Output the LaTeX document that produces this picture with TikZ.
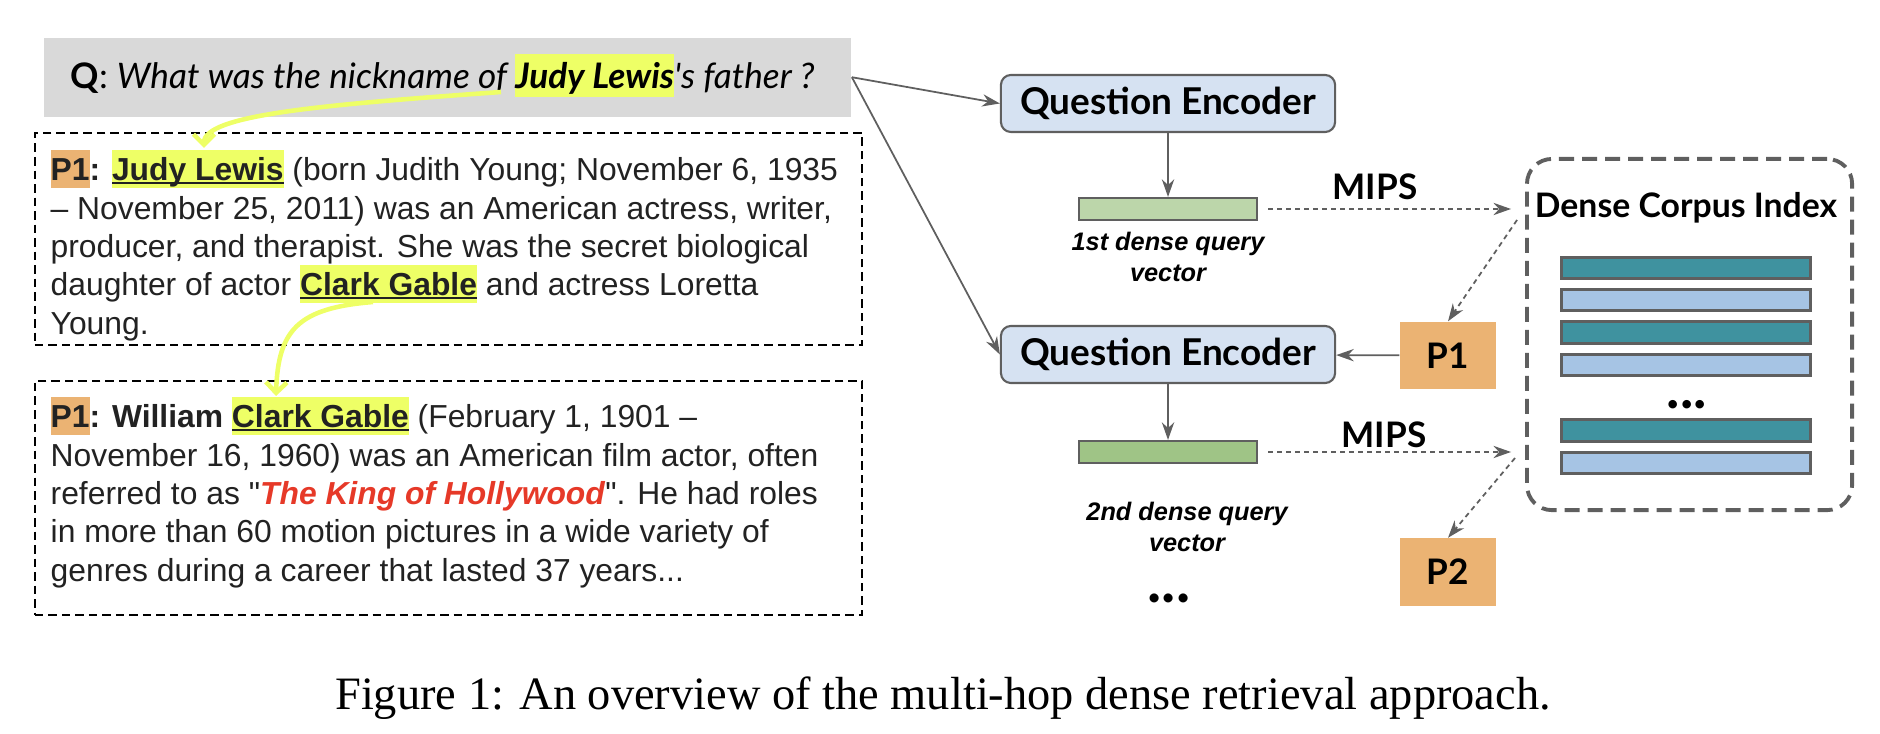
\documentclass[tikz,border=0pt]{standalone}
\usepackage{fontspec}
\setmainfont{Liberation Sans}
\newfontfamily\latofont{Lato}
\newfontfamily\timesfont{Liberation Serif}
\usepackage{xcolor}
\usetikzlibrary{positioning,arrows.meta,shapes.geometric}

\definecolor{qgray}{RGB}{217,217,217}
\definecolor{hlyellow}{RGB}{238,255,102}
\definecolor{porange}{RGB}{235,179,115}
\definecolor{encblue}{RGB}{214,226,242}
\definecolor{vecgreen}{RGB}{188,214,170}
\definecolor{vecgreendark}{RGB}{159,196,134}
\definecolor{barteal}{RGB}{63,146,159}
\definecolor{barblue}{RGB}{166,196,228}
\definecolor{linegray}{RGB}{95,95,95}
\definecolor{kingred}{RGB}{230,57,40}
\definecolor{textgray}{RGB}{34,34,34}

\setlength{\fboxsep}{0pt}
\newsavebox{\ulbox}
\newcommand{\hlq}[1]{\colorbox{hlyellow}{\rule[-0.08cm]{0pt}{0.43cm}#1}}
\newcommand{\hlpid}[1]{\colorbox{porange}{\rule[-0.07cm]{0pt}{0.38cm}#1}}
\newcommand{\hlunder}[1]{\colorbox{hlyellow}{\rule[-0.07cm]{0pt}{0.38cm}\sbox{\ulbox}{#1}\rlap{\rule[-0.035cm]{\wd\ulbox}{0.02cm}}\usebox{\ulbox}}}

\tikzset{
  qbox/.style={rectangle, fill=qgray, minimum width=8.07cm, minimum height=0.79cm, inner sep=0pt},
  passage/.style={rectangle, draw=black, line width=0.5pt, dash pattern=on 0.085cm off 0.05cm, minimum width=8.27cm, inner sep=0pt},
  passtext/.style={anchor=north west, inner sep=0pt, align=left, text=textgray, font=\fontsize{9.05}{10.9}\selectfont},
  encoder/.style={rectangle, rounded corners=0.1cm, draw=linegray, line width=0.6pt, fill=encblue, minimum width=3.34cm, minimum height=0.57cm, font=\latofont\bfseries\fontsize{10.5}{12}\selectfont},
  qvec/.style={rectangle, draw=linegray, line width=0.6pt, minimum width=1.78cm, minimum height=0.22cm, inner sep=0pt},
  veclabel/.style={align=center, inner sep=0pt, font=\bfseries\itshape\fontsize{7.2}{8.9}\selectfont},
  passid/.style={rectangle, fill=porange, minimum width=0.96cm, minimum height=0.67cm, font=\latofont\bfseries\fontsize{10}{12}\selectfont},
  entry/.style={rectangle, draw=linegray, line width=0.8pt, minimum width=2.49cm, minimum height=0.215cm, inner sep=0pt},
  corpusbox/.style={rectangle, draw=linegray, line width=1.1pt, dash pattern=on 0.15cm off 0.08cm, rounded corners=0.25cm, minimum width=3.25cm, minimum height=3.51cm},
  miplabel/.style={font=\latofont\bfseries\fontsize{10}{12}\selectfont},
  link/.style={->, draw=linegray, line width=0.5pt},
  mips/.style={->, draw=linegray, line width=0.5pt, dash pattern=on 0.05cm off 0.04cm},
  hop/.style={draw=hlyellow, line width=1.3pt, -{Straight Barb[length=3pt,width=6pt]}}
}

\begin{document}
\begin{tikzpicture}[x=0.01cm, y=-0.01cm, >={Stealth[length=5pt,width=3.5pt]}]
  \useasboundingbox (0,0) rectangle (1880,734);

  % question and passages
  \node (question) [qbox, anchor=north west] at (43,37) {};
  \node (qtext) [anchor=base west, inner sep=0pt, font=\latofont\fontsize{10}{12}\selectfont] at (70,89) {\textbf{Q}: \textit{What was the nickname of \hlq{\textbf{Judy Lewis}}\textquotesingle s father ?}};

  \node (pass1) [passage, anchor=north west, minimum height=2.12cm] at (34,132) {};
  \node (pass1text) [passtext] at (50,149) {\hlpid{\textbf{P1}}\textbf{:} \hlunder{\textbf{Judy Lewis}} (born Judith Young; November 6, 1935\\
    – November 25, 2011) was an American actress, writer,\\
    producer, and therapist. She was the secret biological\\
    daughter of actor \hlunder{\textbf{Clark Gable}} and actress Loretta\\
    Young.};

  \node (pass2) [passage, anchor=north west, minimum height=2.34cm] at (34,380) {};
  \node (pass2text) [passtext] at (50,396) {\hlpid{\textbf{P1}}\textbf{: William} \hlunder{\textbf{Clark Gable}} (February 1, 1901 –\\
    November 16, 1960) was an American film actor, often\\
    referred to as \textquotedbl\textcolor{kingred}{\textbf{\textit{The King of Hollywood}}}\textquotedbl. He had roles\\
    in more than 60 motion pictures in a wide variety of\\
    genres during a career that lasted 37 years...};

  % entity hops
  \coordinate (judyq) at (501,92);
  \coordinate (judyp) at (204,148);
  \coordinate (gablep1) at (373,302);
  \coordinate (gablep2) at (276,396);
  \draw [hop] (judyq) .. controls (320,105) and (204,115) .. (judyp);
  \draw [hop] (gablep1) .. controls (298,308) and (278,330) .. (gablep2);

  % encoders and query vectors
  \node (enc1) [encoder] at (1168,103.5) {Question Encoder};
  \node (vec1) [qvec, fill=vecgreen] at (1168,209) {};
  \node (lab1) [veclabel, below=0.1cm of vec1] {1st dense query\\vector};
  \node (enc2) [encoder] at (1168,354.5) {Question Encoder};
  \node (vec2) [qvec, fill=vecgreendark] at (1168,452) {};
  \node (lab2) [veclabel, below=0.37cm of vec2, xshift=0.19cm] {2nd dense query\\vector};
  \node (more) [font=\latofont\bfseries\fontsize{17}{17}\selectfont] at (1169,598) {...};

  \node (mips1) [miplabel] at (1375,187) {MIPS};
  \node (mips2) [miplabel] at (1384,435) {MIPS};

  % corpus index
  \node (corpus) [corpusbox, anchor=north west] at (1525,157) {};
  \node (ctitle) [font=\latofont\bfseries\fontsize{9.6}{12}\selectfont] at (1686,208) {Dense Corpus Index};
  \node (entry1) [entry, fill=barteal] at (1686,268) {};
  \node (entry2) [entry, fill=barblue] at (1686,300) {};
  \node (entry3) [entry, fill=barteal] at (1686,332.5) {};
  \node (entry4) [entry, fill=barblue] at (1686,365) {};
  \node (cdots) [font=\latofont\bfseries\fontsize{16}{16}\selectfont] at (1687,405) {...};
  \node (entry5) [entry, fill=barteal] at (1686,430.5) {};
  \node (entry6) [entry, fill=barblue] at (1686,463) {};

  \node (ret1) [passid] at (1448,355.5) {P1};
  \node (ret2) [passid] at (1448,572) {P2};

  \coordinate (out1) at (1517,220);
  \coordinate (out2) at (1515,458);

  % connections
  \draw [link] (question.east) -- (enc1.west);
  \draw [link] (question.east) -- (enc2.west);
  \draw [link] (enc1) -- (vec1);
  \draw [link] (enc2) -- (vec2);
  \draw [link] (ret1) -- (enc2);
  \draw [mips, shorten <=0.1cm, shorten >=0.14cm] (vec1.east) -- (vec1.east -| corpus.west);
  \draw [mips, shorten <=0.1cm, shorten >=0.14cm] (vec2.east) -- (vec2.east -| corpus.west);
  \draw [mips] (out1) -- (ret1.north);
  \draw [mips] (out2) -- (ret2.north);

  \node (caption) [font=\timesfont\fontsize{13.2}{15}\selectfont] at (943,698) {Figure 1: An overview of the multi-hop dense retrieval approach.};
\end{tikzpicture}
\end{document}
